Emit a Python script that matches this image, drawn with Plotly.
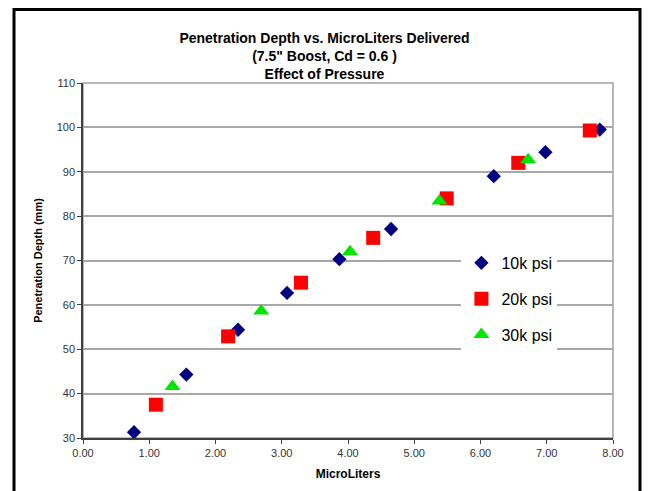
import plotly.graph_objects as go

# ---- data ----
x_10k = [0.77, 1.56, 2.34, 3.08, 3.87, 4.65, 6.20, 6.98, 7.80]
y_10k = [31.3, 44.3, 54.4, 62.7, 70.3, 77.1, 89.0, 94.4, 99.5]

x_20k = [1.10, 2.19, 3.29, 4.38, 5.49, 6.57, 7.65]
y_20k = [37.5, 52.9, 65.0, 75.1, 84.0, 92.0, 99.3]

x_30k = [1.35, 2.69, 4.03, 5.38, 6.72]
y_30k = [41.6, 58.6, 72.0, 83.4, 92.7]

series_names = ["10k psi", "20k psi", "30k psi"]
x_ticks = [0, 1, 2, 3, 4, 5, 6, 7, 8]
y_ticks = [30, 40, 50, 60, 70, 80, 90, 100, 110]

title_lines = ["Penetration Depth vs. MicroLiters Delivered",
               "(7.5\" Boost, Cd = 0.6 )",
               "Effect of Pressure"]
x_title = "MicroLiters"
y_title = "Penetration Depth (mm)"

FONT = "Liberation Sans, Arial, sans-serif"

fig = go.Figure()
fig.add_trace(go.Scatter(x=x_10k, y=y_10k, mode="markers", name=series_names[0],
                         legendgroup="a",
                         marker=dict(symbol="diamond", size=11, color="#000080",
                                     line=dict(width=0))))
fig.add_trace(go.Scatter(x=x_20k, y=y_20k, mode="markers", name=series_names[1],
                         legendgroup="b",
                         marker=dict(symbol="square", size=14, color="#FF0000",
                                     line=dict(width=0))))
fig.add_trace(go.Scatter(x=x_30k, y=y_30k, mode="markers", name=series_names[2],
                         legendgroup="c",
                         marker=dict(symbol="triangle-up", size=14, color="#00E600",
                                     line=dict(width=0))))

fig.update_layout(
    width=649, height=491,
    margin=dict(l=83, r=36, t=83, b=51),
    paper_bgcolor="white", plot_bgcolor="white",
    font=dict(family=FONT, color="#000000"),
    title=dict(text="<b>" + "<br>".join(title_lines) + "</b>",
               x=0.5, xref="container", xanchor="center",
               y=(491 - 43) / 491, yref="container", yanchor="top",
               font=dict(family=FONT, size=14, color="#000000")),
    showlegend=True,
    legend=dict(x=0.714, xanchor="left", y=0.541, yanchor="top",
                bgcolor="white", borderwidth=0,
                font=dict(family=FONT, size=16, color="#000000"),
                tracegroupgap=12, entrywidth=120, entrywidthmode="pixels",
                traceorder="grouped"),
    xaxis=dict(range=[0, 8], tickvals=x_ticks, tickformat=".2f",
               showgrid=False, zeroline=False,
               showline=True, linecolor="#404040", linewidth=1.5,
               ticks="outside", ticklen=4, tickcolor="#404040",
               tickfont=dict(family=FONT, size=11, color="#333333"),
               title=dict(text="<b>" + x_title + "</b>", standoff=12,
                          font=dict(family=FONT, size=12, color="#000000"))),
    yaxis=dict(range=[30, 110], tickvals=y_ticks,
               showgrid=True, gridcolor="#A8A8A8", gridwidth=1.5,
               zeroline=False,
               showline=True, linecolor="#404040", linewidth=1.5,
               ticks="outside", ticklen=4, tickcolor="#404040",
               tickfont=dict(family=FONT, size=11, color="#333333"),
               title=dict(text="<b>" + y_title + "</b>", standoff=12,
                          font=dict(family=FONT, size=11, color="#000000"))),
    shapes=[
        # gray plot-area border (top/right)
        dict(type="rect", xref="paper", yref="paper", x0=0, x1=1, y0=0, y1=1,
             line=dict(color="#A0A0A0", width=1.5), fillcolor="rgba(0,0,0,0)",
             layer="below"),
        # black outer frame
        dict(type="rect", xref="paper", yref="paper",
             x0=(14 - 83) / 530, x1=(640 - 83) / 530,
             y0=(440 - 497) / 357, y1=(440 - 9) / 357,
             line=dict(color="#000000", width=3), fillcolor="rgba(0,0,0,0)",
             layer="above"),
    ],
)

# remove the browser's default 8px page margin so the figure sits at (0, 0)
fig.write_html("out.html",
               config={"displayModeBar": False},
               post_script="document.body.style.margin='0px';document.body.style.overflow='hidden';")
